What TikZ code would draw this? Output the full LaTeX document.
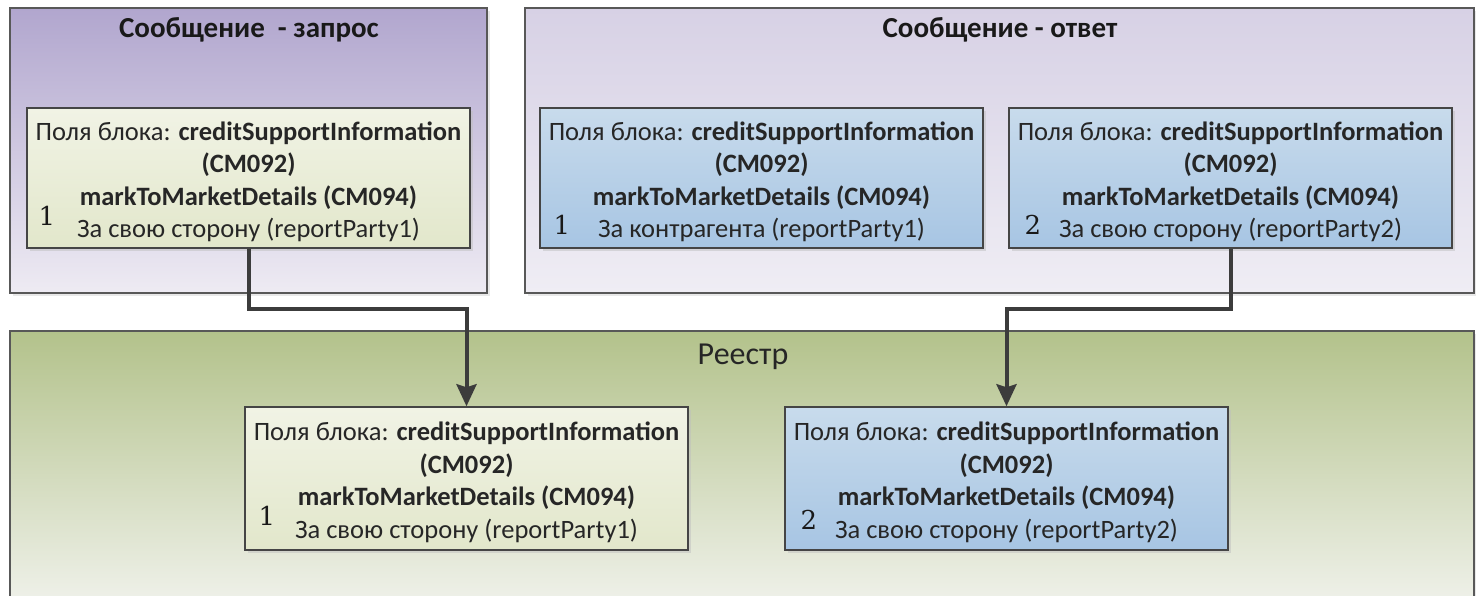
\documentclass[tikz,border=0pt]{standalone}
\usepackage{fontspec}
\setmainfont{Carlito}
\newfontfamily\numfont{DejaVu Serif}
\usetikzlibrary{arrows.meta,shadows}
\definecolor{purpTop}{HTML}{B1A6CE}
\definecolor{purpBot}{HTML}{EEEBF3}
\definecolor{lavTop}{HTML}{D7D1E5}
\definecolor{lavBot}{HTML}{EFEDF4}
\definecolor{grnTop}{HTML}{B3C28B}
\definecolor{grnBot}{HTML}{F3F4F0}
\definecolor{boxGTop}{HTML}{F1F3E5}
\definecolor{boxGBot}{HTML}{E2E7CB}
\definecolor{boxBTop}{HTML}{C8DBEC}
\definecolor{boxBBot}{HTML}{A7C5E3}
\definecolor{edgec}{HTML}{454545}
\definecolor{connc}{HTML}{3C3C3C}
\newcommand{\blocktext}[1]{\rule{0pt}{26pt}Поля блока: \textbf{creditSupportInformation}\\\textbf{(CM092)}\\\textbf{markToMarketDetails (CM094)}\\#1}
\tikzset{
  panel/.style={rectangle, draw=edgec!90, line width=1.5pt, inner sep=0pt,
    drop shadow={shadow xshift=2.5pt, shadow yshift=-2.5pt, fill=black!18}},
  fbox/.style={rectangle, draw=edgec, line width=1.5pt, inner sep=0pt,
    minimum width=443pt, align=center, font=\fontsize{26.5}{32.5}\selectfont, text=black!85,
    drop shadow={shadow xshift=2.5pt, shadow yshift=-2.5pt, fill=black!25}},
  gbox/.style={fbox, top color=boxGTop, bottom color=boxGBot},
  bbox/.style={fbox, top color=boxBTop, bottom color=boxBBot},
  numlbl/.style={inner sep=0pt, font=\numfont\fontsize{26}{26}\selectfont, text=black!90},
  ptitle/.style={inner sep=0pt, font=\fontsize{29}{29}\selectfont\bfseries, text=black!90},
  conn/.style={draw=connc, line width=4pt, -{Stealth[length=22pt,width=20pt,inset=3pt]}}
}
\begin{document}
\begin{tikzpicture}[x=1pt,y=-1pt]
\useasboundingbox (0,0) rectangle (1476,595);
\clip (0,0) rectangle (1476,595);
% panels
\node[panel, minimum width=477pt, minimum height=285pt, top color=purpTop, bottom color=purpBot] (pReq) at (248.5,150.5) {};
\node[panel, minimum width=949pt, minimum height=285pt, top color=lavTop, bottom color=lavBot] (pResp) at (999.5,150.5) {};
\node[panel, minimum width=1464pt, minimum height=290pt, top color=grnTop, bottom color=grnBot] (pReg) at (742,476) {};
% titles
\node[ptitle] (tReq) at (249,30) {Сообщение \ - запрос};
\node[ptitle] (tResp) at (1000,30) {Сообщение - ответ};
\node[inner sep=0pt, font=\fontsize{32}{32}\selectfont, text=black!85] (tReg) at (743,357) {Реестр};
% boxes
\node[gbox, minimum height=140pt] (A) at (248.5,178) {\blocktext{За свою сторону (reportParty1)}};
\node[bbox, minimum height=140pt] (B) at (761.5,178) {\blocktext{За контрагента (reportParty1)}};
\node[bbox, minimum height=140pt] (C) at (1230.5,178) {\blocktext{За свою сторону (reportParty2)}};
\node[gbox, minimum height=143pt] (D) at (466.5,478.5) {\blocktext{За свою сторону (reportParty1)}};
\node[bbox, minimum height=143pt] (E) at (1006.5,478.5) {\blocktext{За свою сторону (reportParty2)}};
% numerals
\node[numlbl] (nA) at (47,216) {1};
\node[numlbl] (nB) at (562,225) {1};
\node[numlbl] (nC) at (1033,225) {2};
\node[numlbl] (nD) at (267,516) {1};
\node[numlbl] (nE) at (809,520) {2};
% connectors
\draw[conn] (A.south) -- ++(0,60) -| (D.north);
\draw[conn] (C.south) -- ++(0,60) -| (E.north);
\end{tikzpicture}
\end{document}
